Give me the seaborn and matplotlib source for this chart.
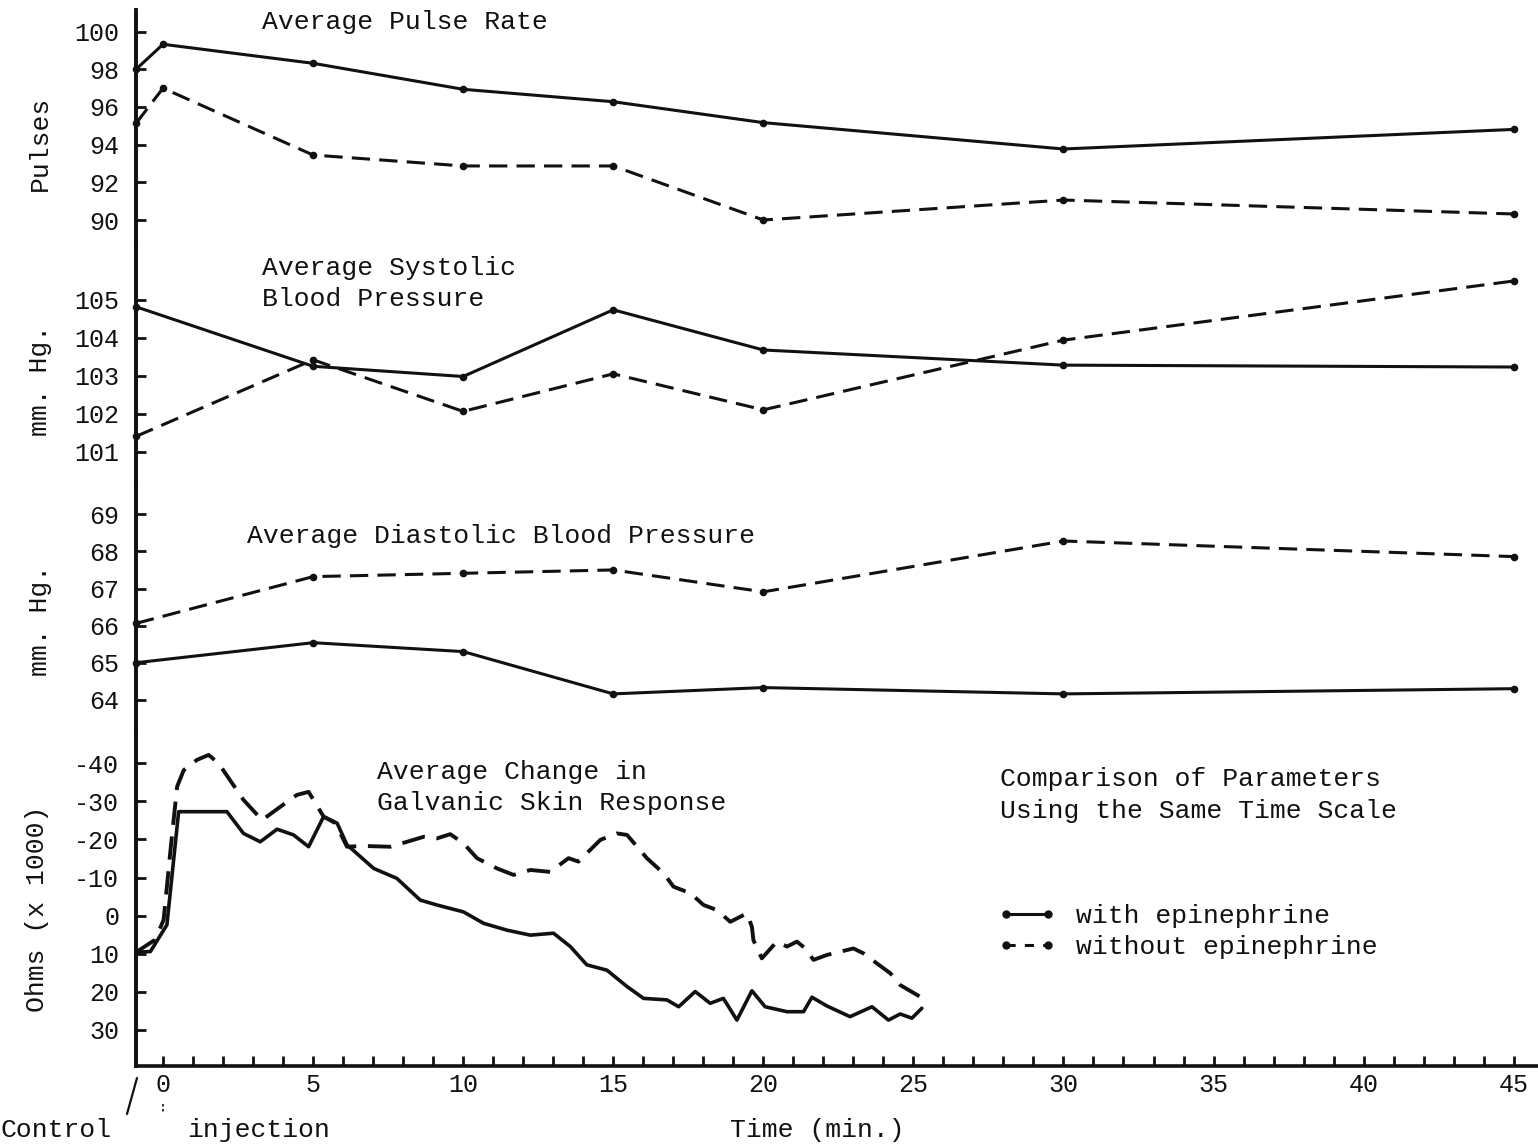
import matplotlib
matplotlib.use("Agg")
import matplotlib.pyplot as plt
import seaborn as sns
from matplotlib.lines import Line2D

# ---------------- data ----------------
pulse_time = [-0.9, 0, 5, 10, 15, 20, 30, 45]
pulse_with = [98.0, 99.33, 98.32, 96.94, 96.28, 95.17, 93.77, 94.81]
pulse_without = [95.13, 97.0, 93.45, 92.87, 92.87, 90.0, 91.06, 90.32]

bp_time = [-0.9, 5, 10, 15, 20, 30, 45]
sys_with = [104.82, 103.25, 102.98, 104.74, 103.68, 103.28, 103.23]
sys_without = [101.4, 103.42, 102.06, 103.05, 102.1, 103.94, 105.5]
dia_with = [65.0, 65.54, 65.30, 64.16, 64.33, 64.16, 64.30]
dia_without = [66.06, 67.32, 67.41, 67.50, 66.91, 68.28, 67.86]

gsr_time_with = [-0.9, -0.42, 0.13, 0.52, 2.13, 2.68, 3.24, 3.80, 4.35, 4.85,
                 5.35, 5.80, 6.13, 7.02, 7.79, 8.57, 9.13, 10.01, 10.68, 11.46,
                 12.24, 13.01, 13.57, 14.12, 14.79, 15.46, 16.01, 16.79, 17.18,
                 17.73, 18.23, 18.67, 19.12, 19.62, 20.06, 20.79, 21.34, 21.62,
                 22.12, 22.89, 23.62, 24.17, 24.56, 24.95, 25.28]
gsr_with = [9.6, 9.4, 2.4, -27.3, -27.3, -21.6, -19.4, -22.7, -21.2, -18.1,
            -26.0, -24.3, -18.6, -12.4, -9.8, -4.1, -2.8, -1.0, 2.0, 3.8,
            5.1, 4.6, 8.1, 12.9, 14.3, 18.6, 21.7, 22.1, 23.9,
            19.9, 23.0, 21.7, 27.4, 19.7, 23.9, 25.2, 25.2, 21.4,
            23.7, 26.5, 23.9, 27.4, 25.8, 26.9, 24.3]

gsr_time_without = [-0.9, -0.26, 0.02, 0.24, 0.47, 0.69, 1.13, 1.52, 1.85, 2.30,
                    2.68, 3.30, 3.91, 4.46, 4.85, 5.35, 5.74, 6.13, 6.68, 7.57,
                    8.13, 8.68, 9.13, 9.57, 10.01, 10.46, 11.13, 11.68, 12.24,
                    12.90, 13.51, 13.84, 14.57, 15.12, 15.46, 16.12, 16.68, 17.01,
                    17.57, 18.01, 18.45, 18.90, 19.45, 19.62, 19.67, 19.95, 20.45,
                    20.79, 21.12, 21.40, 21.67, 22.12, 23.00, 23.34, 23.78, 24.23,
                    24.56, 25.23]
gsr_without = [9.6, 6.3, 1.1, -16.5, -33.9, -38.2, -40.9, -42.2, -40.0, -34.8,
               -30.4, -25.1, -28.6, -31.7, -32.5, -26.0, -24.3, -18.1, -18.3, -18.1,
               -19.4, -20.7, -20.3, -21.4, -19.0, -15.1, -12.4, -10.7, -12.0,
               -11.5, -15.1, -14.2, -19.9, -21.6, -21.2, -15.1, -11.1, -7.6,
               -5.9, -2.8, -1.5, 1.6, -0.6, 2.9, 6.4, 11.2, 6.8,
               8.1, 6.8, 8.6, 11.6, 10.3, 8.6, 9.9, 12.5, 15.1,
               18.2, 21.3]

pulse_ticks = [90, 92, 94, 96, 98, 100]
sys_ticks = [101, 102, 103, 104, 105]
dia_ticks = [64, 65, 66, 67, 68, 69]
gsr_ticks = [-40, -30, -20, -10, 0, 10, 20, 30]
time_ticks = [0, 5, 10, 15, 20, 25, 30, 35, 40, 45]
minute_ticks = list(range(0, 46))

legend_labels = ["with epinephrine", "without epinephrine"]

# ---------------- style ----------------
sns.set_style("white")
plt.rcParams["font.family"] = ["Liberation Mono", "DejaVu Sans Mono"]
plt.rcParams["axes.unicode_minus"] = False

INK = "#111111"
W, H = 1538, 1145
LEFT_PX = 136
fig = plt.figure(figsize=(W / 100, H / 100), dpi=100)
fig.patch.set_facecolor("white")


def rect(top, bottom):
    return [LEFT_PX / W, 1 - bottom / H, (W - LEFT_PX) / W, (bottom - top) / H]


def fx(px):
    return px / W


def fy(py):
    return 1 - py / H


DASH = (0, (6, 3))


def draw(ax, x, y, dashed, lw=2.2, marker="o", ms=5.5):
    sns.lineplot(x=x, y=y, ax=ax, color=INK, lw=lw,
                 linestyle=DASH if dashed else "-",
                 marker=marker, markersize=ms, markeredgewidth=0,
                 estimator=None, sort=False, legend=False, clip_on=False)


def style_axis(ax, ylim, yticks, bottom=False):
    ax.set_facecolor("none")
    ax.set_xlim(-0.9, 45.81)
    ax.set_ylim(*ylim)
    ax.set_yticks(yticks)
    ax.set_yticklabels([str(t) for t in yticks])
    for s in ["top", "right"]:
        ax.spines[s].set_visible(False)
    ax.spines["left"].set_linewidth(2.6)
    ax.spines["left"].set_color(INK)
    ax.spines["left"].set_capstyle("projecting")
    ax.tick_params(axis="y", direction="in", length=7, width=2,
                   pad=12, labelsize=18, colors=INK, left=True)
    ax.set_xlabel("")
    ax.set_ylabel("")
    if not bottom:
        ax.spines["bottom"].set_visible(False)
        ax.tick_params(axis="x", bottom=False, labelbottom=False)


ax1 = fig.add_axes(rect(10, 246))
ax2 = fig.add_axes(rect(245, 483))
ax3 = fig.add_axes(rect(482, 731))
ax4 = fig.add_axes(rect(730, 1066))

draw(ax1, pulse_time, pulse_with, False)
draw(ax1, pulse_time, pulse_without, True)
draw(ax2, bp_time, sys_with, False)
draw(ax2, bp_time, sys_without, True)
draw(ax3, bp_time, dia_with, False)
draw(ax3, bp_time, dia_without, True)
draw(ax4, gsr_time_with, gsr_with, False, lw=2.6, marker=None)
draw(ax4, gsr_time_without, gsr_without, True, lw=2.8, marker=None)

style_axis(ax1, (88.62, 101.15), pulse_ticks)
style_axis(ax2, (100.17, 106.45), sys_ticks)
style_axis(ax3, (63.16, 69.87), dia_ticks)
style_axis(ax4, (39.45, -48.74), gsr_ticks, bottom=True)

ax4.spines["bottom"].set_linewidth(2.6)
ax4.spines["bottom"].set_color(INK)
ax4.spines["bottom"].set_capstyle("projecting")
ax4.set_xticks(time_ticks)
ax4.set_xticklabels([str(t) for t in time_ticks])
ax4.set_xticks(minute_ticks, minor=True)
ax4.tick_params(axis="x", which="both", direction="in", length=7, width=2,
                colors=INK, bottom=True)
ax4.tick_params(axis="x", which="major", pad=5, labelsize=18)

# one continuous left axis line through all stacked panels
fig.add_artist(Line2D([fx(LEFT_PX), fx(LEFT_PX)], [fy(10), fy(1066)],
                      color=INK, lw=2.6, solid_capstyle="projecting",
                      transform=fig.transFigure))

# ---------------- texts ----------------
TS = 19
def t(px, py, s, **kw):
    kw.setdefault("ha", "left")
    kw.setdefault("va", "baseline")
    kw.setdefault("fontsize", TS)
    fig.text(fx(px), fy(py), s, color=INK, **kw)

t(262, 29, "Average Pulse Rate")
t(262, 275, "Average Systolic")
t(262, 306, "Blood Pressure")
t(247, 543, "Average Diastolic Blood Pressure")
t(377, 779, "Average Change in")
t(377, 810, "Galvanic Skin Response")
t(1000, 786, "Comparison of Parameters")
t(1000, 818, "Using the Same Time Scale")
t(730, 1137, "Time (min.)")
t(0, 1137, "Control")
t(187, 1137, "injection")

t(40, 143, "Pulses", rotation=90, ha="center", va="center")
t(40, 380, "mm. Hg.", rotation=90, ha="center", va="center")
t(40, 620, "mm. Hg.", rotation=90, ha="center", va="center")
t(37, 909, "Ohms (x 1000)", rotation=90, ha="center", va="center")

# pointer strokes under the axis
fig.add_artist(Line2D([fx(137), fx(127)], [fy(1078), fy(1114)],
                      color=INK, lw=1.6, transform=fig.transFigure))
fig.add_artist(Line2D([fx(163), fx(163)], [fy(1104), fy(1114)],
                      color=INK, lw=1.2, ls=(0, (1.5, 1.5)),
                      transform=fig.transFigure))

# ---------------- legend ----------------
handles = [
    Line2D([], [], color=INK, lw=2.2, ls="-", marker="o", ms=6, markeredgewidth=0),
    Line2D([], [], color=INK, lw=2.2, ls=(0, (3, 3)), marker="o", ms=6, markeredgewidth=0),
]
fig.legend(handles, legend_labels, loc="upper left",
           bbox_to_anchor=(fx(998), fy(904)), frameon=False,
           numpoints=2, handlelength=2.2, handletextpad=0.75,
           labelspacing=0.27, borderpad=0, borderaxespad=0,
           prop={"family": "Liberation Mono", "size": TS}, labelcolor=INK)

fig.savefig("out.png", dpi=100, facecolor="white")
